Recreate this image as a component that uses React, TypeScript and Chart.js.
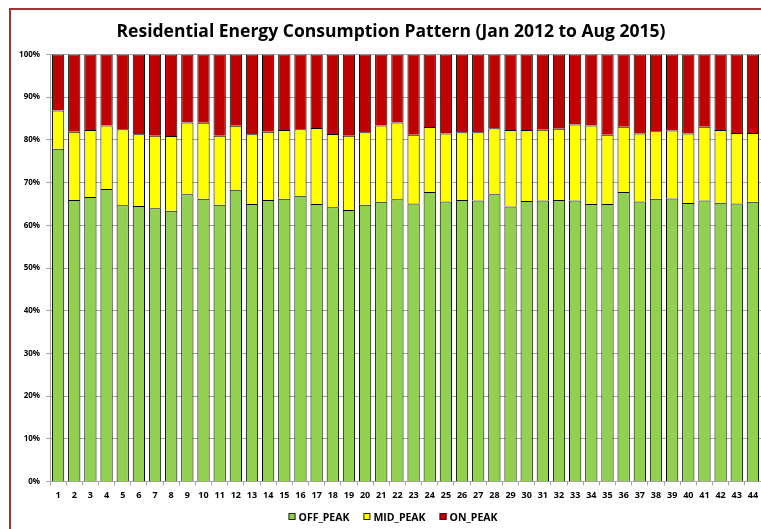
import { useEffect, useRef } from "react";
import { Chart, registerables } from "chart.js";

Chart.register(...registerables);

const TITLE = "Residential Energy Consumption Pattern (Jan 2012 to Aug 2015)";

const months = [
  "1", "2", "3", "4", "5", "6", "7", "8", "9", "10", "11",
  "12", "13", "14", "15", "16", "17", "18", "19", "20", "21", "22",
  "23", "24", "25", "26", "27", "28", "29", "30", "31", "32", "33",
  "34", "35", "36", "37", "38", "39", "40", "41", "42", "43", "44",
];

const offPeak = [
  77.9, 65.9, 66.6, 68.5, 64.7, 64.5, 64.0, 63.4, 67.3, 66.2, 64.8,
  68.3, 65.0, 65.9, 66.2, 66.9, 65.0, 64.2, 63.6, 64.8, 65.5, 66.1,
  65.1, 67.8, 65.6, 65.9, 65.8, 67.3, 64.4, 65.7, 65.8, 65.9, 65.8,
  65.0, 65.0, 67.8, 65.6, 66.2, 66.3, 65.2, 65.8, 65.3, 65.1, 65.5,
];

const midPeak = [
  9.0, 16.0, 15.7, 14.9, 17.8, 16.8, 17.0, 17.5, 16.8, 17.8, 16.2,
  15.0, 16.3, 16.0, 16.1, 15.6, 17.8, 17.2, 17.4, 17.0, 17.9, 18.0,
  16.1, 15.2, 15.9, 15.9, 16.0, 15.4, 17.9, 16.6, 16.6, 16.7, 17.8,
  18.4, 16.2, 15.3, 15.9, 15.8, 15.9, 16.3, 17.3, 17.0, 16.5, 16.1,
];

const onPeak = [
  13.1, 18.1, 17.7, 16.6, 17.5, 18.7, 19.0, 19.1, 15.9, 16.0, 19.0,
  16.7, 18.7, 18.1, 17.7, 17.5, 17.2, 18.6, 19.0, 18.2, 16.6, 15.9,
  18.8, 17.0, 18.5, 18.2, 18.2, 17.3, 17.7, 17.7, 17.6, 17.4, 16.4,
  16.6, 18.8, 16.9, 18.5, 18.0, 17.8, 18.5, 16.9, 17.7, 18.4, 18.4,
];

const seriesNames = ["OFF_PEAK", "MID_PEAK", "ON_PEAK"];
const seriesColors = ["#92D050", "#FFFF00", "#C00000"];

const yTicks = [0, 10, 20, 30, 40, 50, 60, 70, 80, 90, 100];

const CANVAS_W = 762;
const CANVAS_H = 540;
const FONT = "'Open Sans'";

const textPlugin = {
  id: "textPlugin",
  afterDraw(chart: any) {
    const ctx = chart.ctx as CanvasRenderingContext2D;
    ctx.save();
    ctx.fillStyle = "#000";
    ctx.font = `bold 17.5px ${FONT}`;
    ctx.textAlign = "center";
    ctx.textBaseline = "alphabetic";
    ctx.fillText(TITLE, CANVAS_W / 2, 27);

    // legend
    ctx.font = `bold 10.5px ${FONT}`;
    const box = 7;
    const gapBox = 3;
    const gapItem = 14;
    const widths = seriesNames.map((n) => box + gapBox + ctx.measureText(n).width);
    const total = widths.reduce((a, b) => a + b, 0) + gapItem * (seriesNames.length - 1);
    let x = CANVAS_W / 2 + 2 - total / 2;
    const baseY = 511;
    ctx.textAlign = "left";
    seriesNames.forEach((n, i) => {
      ctx.fillStyle = seriesColors[i];
      ctx.fillRect(x, baseY - 8, box, box);
      ctx.strokeStyle = "#222";
      ctx.lineWidth = 1;
      ctx.strokeRect(x + 0.5, baseY - 8 + 0.5, box - 1, box - 1);
      ctx.fillStyle = "#000";
      ctx.fillText(n, x + box + gapBox, baseY);
      x += widths[i] + gapItem;
    });
    ctx.restore();
  },
};

export default function App() {
  const ref = useRef<HTMLCanvasElement | null>(null);

  useEffect(() => {
    if (!ref.current) return;
    const data = [offPeak, midPeak, onPeak];
    const chart = new Chart(ref.current, {
      type: "bar",
      data: {
        labels: months,
        datasets: seriesNames.map((name, i) => ({
          label: name,
          data: data[i],
          backgroundColor: seriesColors[i],
          borderColor: "#000",
          borderWidth: 1,
          borderSkipped: "start",
          barPercentage: 0.76,
          categoryPercentage: 1,
        })),
      },
      options: {
        responsive: false,
        animation: false,
        devicePixelRatio: 1,
        layout: { padding: { top: 44.5, bottom: 38.5, left: 0, right: 11 } },
        plugins: {
          legend: { display: false },
          title: { display: false },
          tooltip: { enabled: false },
        },
        scales: {
          x: {
            stacked: true,
            grid: {
              display: true,
              drawOnChartArea: false,
              drawTicks: true,
              tickLength: 4,
              color: "#A6A6A6",
              offset: true,
            },
            border: { display: true, color: "#A6A6A6" },
            ticks: {
              color: "#000",
              font: { family: "Open Sans", size: 9, weight: "bold" },
              padding: 5,
              maxRotation: 0,
              autoSkip: false,
            },
            afterFit: (s: any) => {
              s.height = 30;
            },
          },
          y: {
            stacked: true,
            min: 0,
            max: 100,
            afterBuildTicks: (s: any) => {
              s.ticks = yTicks.map((v) => ({ value: v }));
            },
            grid: {
              color: "#A6A6A6",
              tickLength: 4,
            },
            border: { display: true, color: "#A6A6A6" },
            ticks: {
              color: "#000",
              font: { family: "Open Sans", size: 8, weight: "bold" },
              padding: 6,
              callback: (v: any) => v + "%",
            },
            afterFit: (s: any) => {
              s.width = 40;
            },
          },
        },
      },
      plugins: [textPlugin],
    });
    return () => chart.destroy();
  }, []);

  return (
    <div
      style={{
        position: "fixed",
        left: 0,
        top: 0,
        width: 761,
        height: 529,
        overflow: "hidden",
        background: "#fff",
      }}
    >
      <div
        style={{
          position: "absolute",
          left: 9,
          top: 8,
          width: 820,
          height: 600,
          border: "2px solid #A03232",
          boxSizing: "border-box",
        }}
      />
      <canvas
        ref={ref}
        width={CANVAS_W}
        height={CANVAS_H}
        style={{
          position: "absolute",
          left: 10,
          top: 10,
          width: CANVAS_W,
          height: CANVAS_H,
        }}
      />
    </div>
  );
}
